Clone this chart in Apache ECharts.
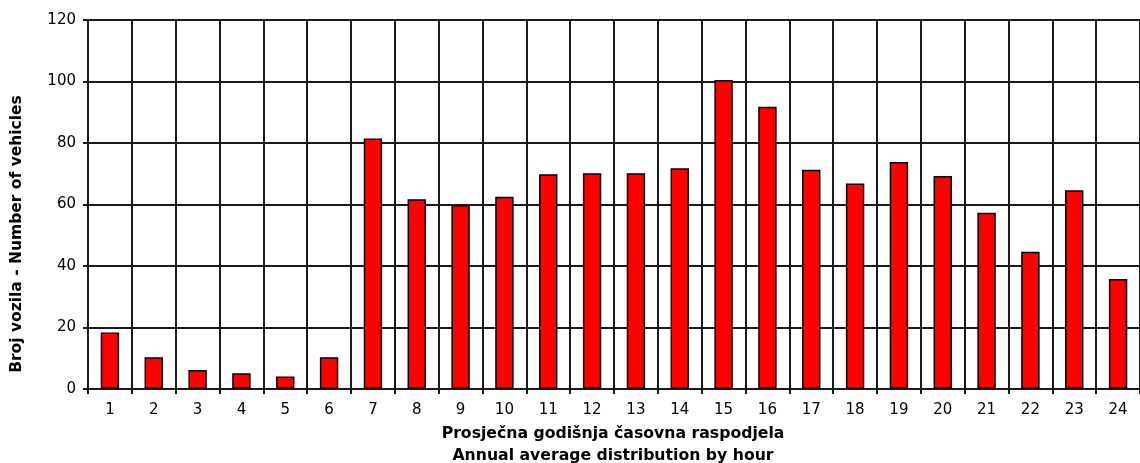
<!DOCTYPE html>
<html>
<head>
<meta charset="utf-8">
<script src="https://cdn.jsdelivr.net/npm/echarts@6/dist/echarts.min.js"></script>
<style>
html, body { margin: 0; padding: 0; background: #fff; }
#chart { width: 1140px; height: 463px; }
</style>
</head>
<body>
<div id="chart"></div>
<script>
// sati u danu
var hours = ['1','2','3','4','5','6','7','8','9','10','11','12','13','14','15','16','17','18','19','20','21','22','23','24'];
// prosjecan broj vozila po satu
var vehicles = [18.4, 10.3, 6.2, 5.1, 4.1, 10.3, 81.5, 61.7, 59.8, 62.5, 69.8, 70.2, 70.2, 71.8, 100.5, 91.8, 71.3, 66.8, 73.8, 69.3, 57.3, 44.6, 64.6, 35.8];
var yTicks = { min: 0, max: 120, interval: 20 };
var xTitle = ['Prosječna godišnja časovna raspodjela', 'Annual average distribution by hour'];
var yTitle = 'Broj vozila - Number of vehicles';

var myChart = echarts.init(document.getElementById('chart'));
var font = 'DejaVu Sans, Verdana, sans-serif';
var lineCol = '#1a1a1a';
var option = {
    backgroundColor: '#ffffff',
    animation: false,
    grid: {
        left: 88,
        right: -8,
        top: 20,
        bottom: 74
    },
    xAxis: {
        type: 'category',
        data: hours,
        boundaryGap: true,
        axisLine: { lineStyle: { color: lineCol, width: 2 } },
        axisTick: { show: true, length: 5, lineStyle: { color: lineCol, width: 2 } },
        axisLabel: { color: '#000', fontFamily: font, fontSize: 15, margin: 14 },
        splitLine: { show: true, lineStyle: { color: lineCol, width: 2 } }
    },
    yAxis: {
        type: 'value',
        min: yTicks.min,
        max: yTicks.max,
        interval: yTicks.interval,
        axisLine: { show: true, lineStyle: { color: lineCol, width: 2 } },
        axisTick: { show: true, length: 5, lineStyle: { color: lineCol, width: 2 } },
        axisLabel: { color: '#000', fontFamily: font, fontSize: 15, margin: 12 },
        splitLine: { show: true, lineStyle: { color: lineCol, width: 2 } }
    },
    graphic: [
        {
            type: 'text',
            x: 613,
            y: 423,
            style: {
                text: xTitle.join('\n'),
                fill: '#000',
                font: 'bold 15.7px ' + font,
                textAlign: 'center',
                lineHeight: 22
            }
        },
        {
            type: 'text',
            x: 17,
            y: 234,
            rotation: Math.PI / 2,
            style: {
                text: yTitle,
                fill: '#000',
                font: 'bold 15.5px ' + font,
                textAlign: 'center',
                textVerticalAlign: 'middle'
            }
        }
    ],
    series: [
        {
            name: 'vozila',
            type: 'bar',
            data: vehicles,
            barWidth: '42%',
            itemStyle: {
                color: '#ff0000',
                borderColor: '#000',
                borderWidth: 1.5
            }
        }
    ]
};
myChart.setOption(option);
</script>
</body>
</html>
